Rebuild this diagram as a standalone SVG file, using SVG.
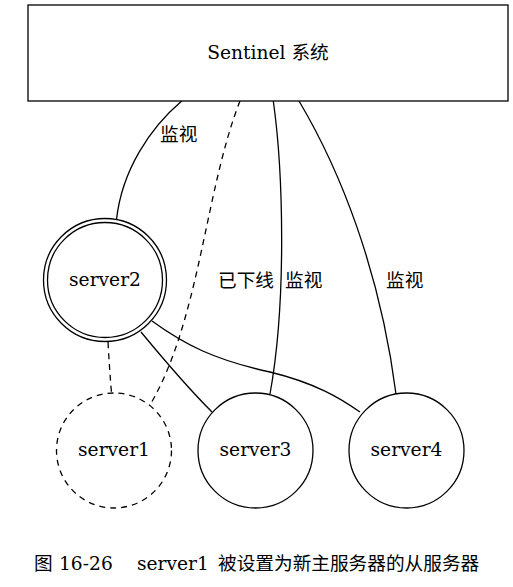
<svg xmlns="http://www.w3.org/2000/svg" width="513" height="587" viewBox="0 0 513 587">
<style>
  .shape { fill: #ffffff; stroke: #000000; stroke-width: 1.3; }
  .dash { stroke-dasharray: 6,5; }
  .edge { fill: none; stroke: #000000; stroke-width: 1.3; }
  .lbl { font-family: "DejaVu Serif", "Liberation Serif", "Noto Sans CJK SC", serif; font-size: 18.67px; fill: #000000; }
  .mid { text-anchor: middle; }
</style>
<rect width="513" height="587" fill="#ffffff"/>
<g id="connectors">
  <path class="edge" d="M181.7,101 C150,128 122,170 116.5,219.5"/>
  <path class="edge dash" d="M240,101 C205,190 200,320 150,405"/>
  <path class="edge" d="M273.3,101 C283,170 287,300 270,394"/>
  <path class="edge" d="M299,101 C340,170 380,270 396,394"/>
  <path class="edge dash" d="M108,342 C109,360 110,375 111.5,393"/>
  <path class="edge" d="M141,332 C160,355 185,385 212,412"/>
  <path class="edge" d="M152,321 C185,345 215,360 270,372 C315,383 340,398 360,412"/>
  <text class="lbl" x="160" y="141">监视</text>
  <text class="lbl" x="218" y="287">已下线</text>
  <text class="lbl" x="285" y="287">监视</text>
  <text class="lbl" x="386" y="287">监视</text>
</g>
<g id="sentinel">
  <rect class="shape" x="28" y="5" width="480" height="96"/>
  <text class="lbl mid" x="268" y="58.5">Sentinel 系统</text>
</g>
<g id="server2">
  <circle class="shape" cx="105" cy="280" r="61.5"/>
  <circle class="shape" cx="105" cy="280" r="57.5"/>
  <text class="lbl mid" x="105" y="286">server2</text>
</g>
<g id="server1">
  <circle class="shape dash" cx="114" cy="450.5" r="57.5"/>
  <text class="lbl mid" x="114" y="456">server1</text>
</g>
<g id="server3">
  <circle class="shape" cx="255.5" cy="450.5" r="57.5"/>
  <text class="lbl mid" x="255.5" y="456">server3</text>
</g>
<g id="server4">
  <circle class="shape" cx="406.5" cy="450.5" r="57.5"/>
  <text class="lbl mid" x="406.5" y="456">server4</text>
</g>
<g id="caption">
  <text class="lbl" y="570"><tspan x="34">图</tspan><tspan x="59">16-26</tspan><tspan x="137">server1</tspan><tspan x="218">被设置为新主服务器的从服务器</tspan></text>
</g>
</svg>
